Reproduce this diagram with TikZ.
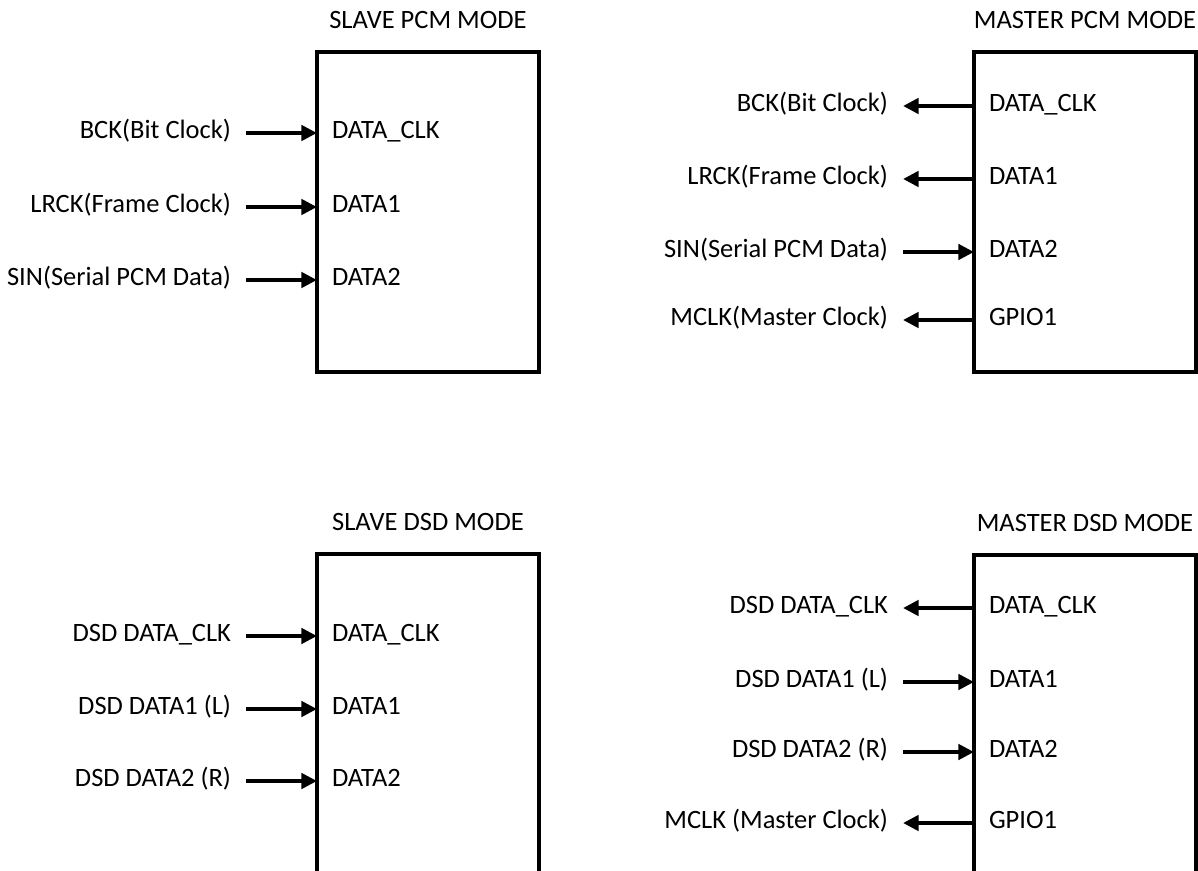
\documentclass[tikz,border=0pt]{standalone}
\usepackage{fontspec}
\setmainfont{Carlito}
\usetikzlibrary{positioning,arrows.meta}

\begin{document}
\begin{tikzpicture}[x=0.5pt, y=-0.5pt, node distance=35.5pt,
        font=\fontsize{13.25pt}{15pt}\selectfont,
        chip/.style = {draw, line width=1.6pt, minimum width=111pt, minimum height=160pt, inner sep=0pt, outer sep=0pt},
        port/.style = {anchor=west, inner xsep=7.5pt, inner ysep=0pt, outer sep=0pt, text height=8pt, text depth=2.6pt},
        ext/.style = {inner xsep=7.5pt, inner ysep=0pt, outer sep=0pt, text height=8pt, text depth=2.6pt},
        modetitle/.style = {inner sep=0pt, outer sep=0pt, text height=8pt, text depth=2.6pt},
        wire/.style = {line width=2.1pt, -{Triangle[length=7.8pt, width=7.6pt]}}]
    \useasboundingbox (0,0) rectangle (1198,871);

    % slave pcm
    \node[chip] (spcm) at (428,212) {};
    \node[modetitle, above=9pt of spcm] (spcmt) {SLAVE PCM MODE};
    \node[port] (sp1) at ([yshift=-40.5pt]spcm.north west) {DATA\_CLK};
    \node[port] (sp2) at ([yshift=-77.5pt]spcm.north west) {DATA1};
    \node[port] (sp3) at ([yshift=-114pt]spcm.north west) {DATA2};
    \node[ext, left=of sp1] (sbck) {BCK(Bit Clock)};
    \node[ext, left=of sp2] (slrck) {LRCK(Frame Clock)};
    \node[ext, left=of sp3] (ssin) {SIN(Serial PCM Data)};
    \draw[wire] (sbck) -- (sp1);
    \draw[wire] (slrck) -- (sp2);
    \draw[wire] (ssin) -- (sp3);

    % master pcm
    \node[chip] (mpcm) at (1085,212) {};
    \node[modetitle, above=9pt of mpcm] (mpcmt) {MASTER PCM MODE};
    \node[port] (mp1) at ([yshift=-27pt]mpcm.north west) {DATA\_CLK};
    \node[port] (mp2) at ([yshift=-63.5pt]mpcm.north west) {DATA1};
    \node[port] (mp3) at ([yshift=-100pt]mpcm.north west) {DATA2};
    \node[port] (mp4) at ([yshift=-134pt]mpcm.north west) {GPIO1};
    \node[ext, left=of mp1] (mbck) {BCK(Bit Clock)};
    \node[ext, left=of mp2] (mlrck) {LRCK(Frame Clock)};
    \node[ext, left=of mp3] (msin) {SIN(Serial PCM Data)};
    \node[ext, left=of mp4] (mmclk) {MCLK(Master Clock)};
    \draw[wire] (mp1) -- (mbck);
    \draw[wire] (mp2) -- (mlrck);
    \draw[wire] (msin) -- (mp3);
    \draw[wire] (mp4) -- (mmclk);

    % slave dsd
    \node[chip] (sdsd) at (428,714) {};
    \node[modetitle, above=9pt of sdsd] (sdsdt) {SLAVE DSD MODE};
    \node[port] (sd1) at ([yshift=-41pt]sdsd.north west) {DATA\_CLK};
    \node[port] (sd2) at ([yshift=-77.5pt]sdsd.north west) {DATA1};
    \node[port] (sd3) at ([yshift=-113.5pt]sdsd.north west) {DATA2};
    \node[ext, left=of sd1] (sdclk) {DSD DATA\_CLK};
    \node[ext, left=of sd2] (sdl) {DSD DATA1 (L)};
    \node[ext, left=of sd3] (sdr) {DSD DATA2 (R)};
    \draw[wire] (sdclk) -- (sd1);
    \draw[wire] (sdl) -- (sd2);
    \draw[wire] (sdr) -- (sd3);

    % master dsd
    \node[chip] (mdsd) at (1085,715) {};
    \node[modetitle, above=9pt of mdsd] (mdsdt) {MASTER DSD MODE};
    \node[port] (md1) at ([yshift=-26.5pt]mdsd.north west) {DATA\_CLK};
    \node[port] (md2) at ([yshift=-63.5pt]mdsd.north west) {DATA1};
    \node[port] (md3) at ([yshift=-98.5pt]mdsd.north west) {DATA2};
    \node[port] (md4) at ([yshift=-134pt]mdsd.north west) {GPIO1};
    \node[ext, left=of md1] (mdclk) {DSD DATA\_CLK};
    \node[ext, left=of md2] (mdl) {DSD DATA1 (L)};
    \node[ext, left=of md3] (mdr) {DSD DATA2 (R)};
    \node[ext, left=of md4] (mdmclk) {MCLK (Master Clock)};
    \draw[wire] (md1) -- (mdclk);
    \draw[wire] (mdl) -- (md2);
    \draw[wire] (mdr) -- (md3);
    \draw[wire] (md4) -- (mdmclk);
\end{tikzpicture}
\end{document}
